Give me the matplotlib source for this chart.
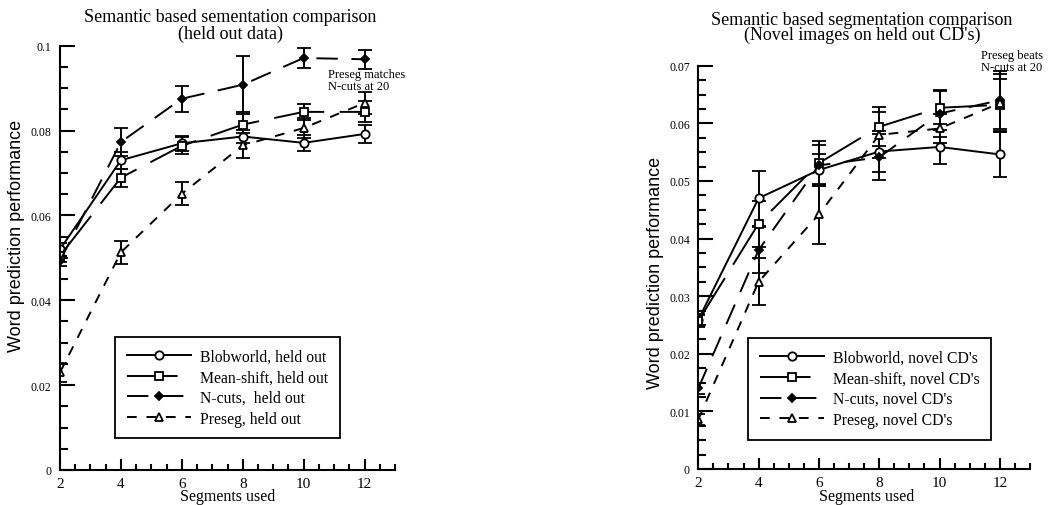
import numpy as np, matplotlib
matplotlib.use("Agg"); import matplotlib.pyplot as plt
from matplotlib.ticker import MultipleLocator, FixedLocator

segments = [2, 4, 6, 8, 10, 12]

# held out data (left panel)
blob_held = [0.0520, 0.0730, 0.0770, 0.0786, 0.0771, 0.0792]
blob_held_err = [0.0015, 0.0020, 0.0018, 0.0015, 0.0019, 0.0022]
mean_held = [0.0505, 0.0689, 0.0764, 0.0814, 0.0844, 0.0844]
mean_held_err = [0.0015, 0.0021, 0.0020, 0.0030, 0.0018, 0.0025]
ncut_held = [0.0493, 0.0773, 0.0875, 0.0908, 0.0971, 0.0968]
ncut_held_err = [0.0012, 0.0032, 0.0031, 0.0068, 0.0024, 0.0022]
pre_held = [0.0230, 0.0513, 0.0651, 0.0765, 0.0806, 0.0865]
pre_held_err = [0.0022, 0.0027, 0.0027, 0.0030, 0.0023, 0.0026]

# novel images on held out CD's (right panel)
blob_novel = [0.0259, 0.0470, 0.0519, 0.0551, 0.0559, 0.0546]
blob_novel_err = [0.0010, 0.0048, 0.0028, 0.0035, 0.0030, 0.0039]
mean_novel = [0.0257, 0.0426, 0.0531, 0.0594, 0.0627, 0.0632]
mean_novel_err = [0.0010, 0.0040, 0.0038, 0.0034, 0.0029, 0.0045]
ncut_novel = [0.0140, 0.0380, 0.0527, 0.0541, 0.0617, 0.0640]
ncut_novel_err = [0.0010, 0.0040, 0.0035, 0.0040, 0.0040, 0.0050]
pre_novel = [0.0086, 0.0325, 0.0442, 0.0580, 0.0591, 0.0635]
pre_novel_err = [0.0010, 0.0041, 0.0052, 0.0040, 0.0025, 0.0050]

left_labels = ["Blobworld, held out", "Mean-shift, held out", "N-cuts,  held out", "Preseg, held out"]
right_labels = ["Blobworld, novel CD's", "Mean-shift, novel CD's", "N-cuts, novel CD's", "Preseg, novel CD's"]
left_yticks = [0, 0.02, 0.04, 0.06, 0.08, 0.1]
left_yticklabels = ["0", "0.02", "0.04", "0.06", "0.08", "0.1"]
right_yticks = [0, 0.01, 0.02, 0.03, 0.04, 0.05, 0.06, 0.07]
right_yticklabels = ["0", "0.01", "0.02", "0.03", "0.04", "0.05", "0.06", "0.07"]

SERIF = ["Liberation Serif", "DejaVu Serif"]
SANS = ["Liberation Sans", "DejaVu Sans"]
plt.rcParams.update({"font.family": SERIF, "axes.linewidth": 1.5})

styles = [
    dict(ls="-", marker="o", mfc="white", ms=6),
    dict(ls=(0, (26, 8)), marker="s", mfc="white", ms=6),
    dict(ls=(0, (11, 7)), marker="D", mfc="black", ms=4.5),
    dict(ls=(0, (5, 5)), marker="^", mfc="white", ms=6),
]

fig = plt.figure(figsize=(10.48, 5.06), dpi=100)
W, H = 1048, 506

def panel(rect, series, errs, labels, ymax, yticks, yminor, yticklabels, leg_anchor):
    ax = fig.add_axes(rect)
    hs = []
    for y, e, st in zip(series, errs, styles):
        h = ax.errorbar(segments, y, yerr=e, color="black", lw=1.4, capsize=5, capthick=1.4,
                        elinewidth=1.4, mec="black", mew=1.3, **st)
        hs.append(h[0])
    ax.set_xlim(2, 13); ax.set_ylim(0, ymax)
    ax.xaxis.set_major_locator(FixedLocator(segments)); ax.xaxis.set_minor_locator(MultipleLocator(0.5))
    ax.set_yticks(yticks, yticklabels); ax.yaxis.set_minor_locator(MultipleLocator(yminor))
    for s in ["top", "right"]: ax.spines[s].set_visible(False)
    ax.tick_params(axis="y", which="major", direction="in", length=11, width=1.5, labelsize=8.5, pad=6)
    ax.tick_params(axis="y", which="minor", direction="in", length=6, width=1.5)
    ax.tick_params(axis="x", which="major", direction="in", length=8, width=1.5, labelsize=11, pad=5)
    ax.tick_params(axis="x", which="minor", direction="in", length=4, width=1.5)
    leg = ax.legend(hs, labels, loc="upper left", bbox_to_anchor=leg_anchor,
                    fontsize=11.3, handlelength=4.1, handletextpad=0.55, fancybox=False,
                    edgecolor="black", framealpha=1, borderpad=0.75, labelspacing=0.3,
                    borderaxespad=0)
    leg.get_frame().set_linewidth(1.3)
    return ax

panel([60/W, 35/H, 335/W, 424.3/H],
      [blob_held, mean_held, ncut_held, pre_held],
      [blob_held_err, mean_held_err, ncut_held_err, pre_held_err],
      left_labels, 0.1, left_yticks, 0.005, left_yticklabels, (0.164, 0.314))
panel([698.3/W, 36/H, 331.7/W, 403.3/H],
      [blob_novel, mean_novel, ncut_novel, pre_novel],
      [blob_novel_err, mean_novel_err, ncut_novel_err, pre_novel_err],
      right_labels, 0.07, right_yticks, 0.0025, right_yticklabels, (0.150, 0.325))

def ft(x, y, s, **kw):
    fig.text(x/W, 1 - y/H, s, **kw)

ft(230, 26, "Semantic based sementation comparison\n(held out data)", fontsize=13,
   ha="center", va="center", linespacing=1.05)
ft(862, 28, "Semantic based segmentation comparison\n(Novel images on held out CD's)", fontsize=13,
   ha="center", va="center", linespacing=0.82)

ft(17, 236, "Word prediction performance", family=SANS, fontsize=13, rotation=90, ha="center", va="center")
ft(655, 273, "Word prediction performance", family=SANS, fontsize=13, rotation=90, ha="center", va="center")
ft(228, 497, "Segments used", fontsize=11.5, ha="center", va="center")
ft(867, 497, "Segments used", fontsize=11.5, ha="center", va="center")

ft(328, 81, "Preseg matches\nN-cuts at 20", fontsize=9, ha="left", va="center", linespacing=0.95)
ft(981, 62, "Preseg beats\nN-cuts at 20", fontsize=9, ha="left", va="center", linespacing=0.95)

fig.savefig("out.png", dpi=100)
